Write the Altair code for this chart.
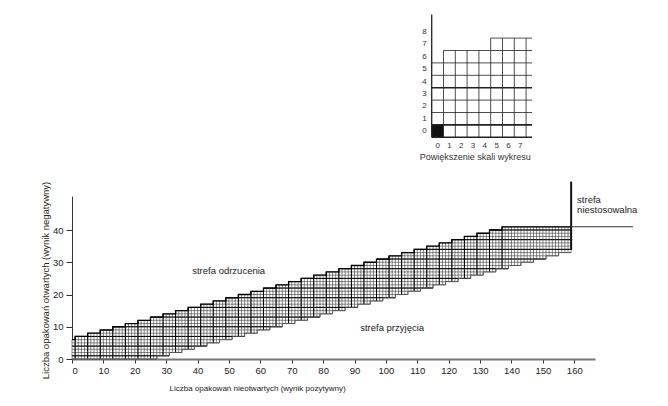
import altair as alt
import pandas as pd

# ---------------- data ----------------
# upper (rejection) staircase: column start -> upper cell bound
upper_start = [0, 1, 5, 9, 13, 17, 21, 25, 29, 33, 37, 41, 45, 49, 53, 57, 61, 65,
               69, 73, 77, 81, 85, 89, 93, 97, 101, 105, 109, 113, 117, 121, 125,
               129, 133, 137]
upper_val = [6, 7, 8, 9, 10, 11, 12, 13, 14, 15, 16, 17, 18, 19, 20, 21, 22, 23,
             24, 25, 26, 27, 28, 29, 30, 31, 32, 33, 34, 35, 36, 37, 38, 39, 40, 41]
# lower (acceptance) staircase
lower_start = [0, 27, 31, 35, 39, 43, 47, 51, 55, 59, 63, 67, 71, 75, 79, 83, 87,
               91, 95, 99, 103, 107, 111, 115, 119, 123, 127, 131, 135, 139, 143,
               147, 151, 155]
lower_val = [0, 1, 2, 3, 4, 5, 6, 7, 8, 9, 10, 11, 12, 13, 14, 15, 16, 17, 18, 19,
             20, 21, 22, 23, 24, 25, 26, 27, 28, 29, 30, 31, 32, 33]
band_end = 159
# "strefa niestosowalna" boundary
ns_x = 159
ns_y_low, ns_y_high = 33.8, 55
ns_h_y, ns_h_x_end = 41, 178.7

x_ticks = [0, 10, 20, 30, 40, 50, 60, 70, 80, 90, 100, 110, 120, 130, 140, 150, 160]
y_ticks = [0, 10, 20, 30, 40]

anno_text = ["strefa odrzucenia", "strefa przyjęcia", "strefa", "niestosowalna"]
anno_x = [38.3, 91.8, 160.9, 160.9]
anno_y = [27.3, 9.6, 49.3, 46.2]

# inset: "Powiększenie skali wykresu"
inset_cols = [0, 1, 2, 3, 4, 5, 6, 7, 8]
inset_tops = [6, 7, 7, 7, 7, 8, 8, 8, 8]
inset_right = 8.5
inset_axis_top = 9.9
inset_bold_rows = [1, 4]
inset_xlabels = ["0", "1", "2", "3", "4", "5", "6", "7"]
inset_ylabels = ["0", "1", "2", "3", "4", "5", "6", "7", "8"]
inset_title = "Powiększenie skali wykresu"

x_title = "Liczba opakowań nieotwartych (wynik pozytywny)"
y_title = "Liczba opakowań otwartych (wynik negatywny)"

FONT = "Liberation Sans"
W, H = 523, 349

# ---------------- derived tables ----------------
def step_value(starts, vals, c):
    v = vals[0]
    for s, val in zip(starts, vals):
        if s <= c:
            v = val
    return v

up = [step_value(upper_start, upper_val, c) for c in range(band_end)]
lo = [step_value(lower_start, lower_val, c) for c in range(band_end)]

cols = pd.DataFrame({"x": list(range(band_end)), "x2": [c + 1 for c in range(band_end)],
                     "y": lo, "y2": up})

vrows = []
for b in range(band_end + 1):
    adj = [c for c in (b - 1, b) if 0 <= c < band_end]
    vrows.append({"x": b, "y": min(lo[c] for c in adj), "y2": max(up[c] for c in adj)})
fine_v = pd.DataFrame(vrows)

hrows = []
for k in range(0, max(up) + 1):
    cs = [c for c in range(band_end) if lo[c] <= k <= up[c]]
    if cs:
        hrows.append({"y": k, "x": min(cs), "x2": max(cs) + 1})
fine_h = pd.DataFrame(hrows)

dark_v = fine_v[fine_v["x"].isin(upper_start[1:])]
dark_h = fine_h[fine_h["y"].isin(list(range(1, 42, 3)))]

upper_line = pd.DataFrame({"x": upper_start + [band_end], "y": upper_val + [upper_val[-1]]})
lower_line = pd.DataFrame({"x": lower_start + [band_end], "y": lower_val + [lower_val[-1]]})

ns_v = pd.DataFrame({"x": [ns_x], "y": [ns_y_low], "y2": [ns_y_high]})
ns_h = pd.DataFrame({"x": [ns_x], "x2": [ns_h_x_end], "y": [ns_h_y]})
anno = pd.DataFrame({"t": anno_text, "x": anno_x, "y": anno_y})

# ---------------- main chart ----------------
XS = alt.Scale(domain=[0, 166.6], nice=False, zero=False)
YS = alt.Scale(domain=[0, 50.5], range=[H, H - 50.5 * 3.225], nice=False, zero=False)

x_axis = alt.Axis(values=x_ticks, title=x_title, grid=False, domainColor="#777",
                  domainWidth=2, tickColor="#333", tickSize=4, labelPadding=2,
                  labelFont=FONT, labelFontSize=9.5, labelColor="#222",
                  titleFont=FONT, titleFontSize=8, titleFontWeight="normal",
                  titleColor="#222", titleX=185, titleY=29, titleBaseline="middle",
                  titleAlign="center", orient="bottom")
y_axis = alt.Axis(values=y_ticks, title=y_title, grid=False, domainColor="#333",
                  domainWidth=1, tickColor="#333", tickSize=6, labelPadding=3,
                  labelFont=FONT, labelFontSize=9.5, labelColor="#222",
                  titleFont=FONT, titleFontSize=9.5, titleFontWeight="normal",
                  titleColor="#222", titleX=-27, titleY=270, titleBaseline="middle",
                  titleAlign="center", titleAngle=270, orient="left")


def X(f, ax=None):
    return alt.X(f, type="quantitative", scale=XS, axis=ax)


def Y(f, ax=None):
    return alt.Y(f, type="quantitative", scale=YS, axis=ax)


band = alt.Chart(cols).mark_rect(fill="white", stroke=None).encode(
    x=X("x", x_axis), x2="x2", y=Y("y", y_axis), y2="y2")
fv = alt.Chart(fine_v).mark_rule(color="#3a3a3a", strokeWidth=0.6).encode(
    x=X("x"), y=Y("y"), y2="y2")
fh = alt.Chart(fine_h).mark_rule(color="#3a3a3a", strokeWidth=0.6).encode(
    x=X("x"), x2="x2", y=Y("y"))
dv = alt.Chart(dark_v).mark_rule(color="#000", strokeWidth=1).encode(
    x=X("x"), y=Y("y"), y2="y2")
dh = alt.Chart(dark_h).mark_rule(color="#000", strokeWidth=1).encode(
    x=X("x"), x2="x2", y=Y("y"))
ul = alt.Chart(upper_line).mark_line(color="#000", strokeWidth=1.3,
                                     interpolate="step-after").encode(x=X("x"), y=Y("y"))
ll = alt.Chart(lower_line).mark_line(color="#555", strokeWidth=0.9,
                                     interpolate="step-after").encode(x=X("x"), y=Y("y"))
nsv = alt.Chart(ns_v).mark_rule(color="#111", strokeWidth=2).encode(
    x=X("x"), y=Y("y"), y2="y2")
nsh = alt.Chart(ns_h).mark_rule(color="#333", strokeWidth=1).encode(
    x=X("x"), x2="x2", y=Y("y"))
txt = alt.Chart(anno).mark_text(align="left", baseline="middle", font=FONT,
                                fontSize=9.5, color="#222").encode(
    x=X("x"), y=Y("y"), text="t:N")

# ---------------- inset ----------------
IXS = alt.Scale(domain=[0, inset_right], range=[431.7 - 72, 431.7 - 72 + inset_right * 11.8],
                nice=False, zero=False)
IYS = alt.Scale(domain=[0, inset_axis_top],
                range=[127.3, 127.3 - inset_axis_top * 12.4], nice=False, zero=False)


def IX(f):
    return alt.X(f, type="quantitative", scale=IXS, axis=None)


def IY(f):
    return alt.Y(f, type="quantitative", scale=IYS, axis=None)


ih = []
for k in range(0, max(inset_tops) + 1):
    cs = [c for c, t in zip(inset_cols, inset_tops) if t >= k]
    ih.append({"y": k, "x": min(cs), "x2": inset_right,
               "w": 1.6 if (k in inset_bold_rows or k == 0) else 0.8})
ih = pd.DataFrame(ih)
iv = []
for c in inset_cols[1:]:
    t = max(inset_tops[c - 1], inset_tops[c])
    iv.append({"x": c, "y": 0, "y2": t})
iv = pd.DataFrame(iv)
iaxis = pd.DataFrame({"x": [0], "y": [0], "y2": [inset_axis_top]})
iblack = pd.DataFrame({"x": [0], "x2": [1], "y": [0], "y2": [1]})
iyl = pd.DataFrame({"t": inset_ylabels, "x": [0] * len(inset_ylabels),
                    "y": [i + 0.5 for i in range(len(inset_ylabels))]})
ixl = pd.DataFrame({"t": inset_xlabels, "x": [i + 0.5 for i in range(len(inset_xlabels))],
                    "y": [0] * len(inset_xlabels)})
ititle = pd.DataFrame({"t": [inset_title], "x": [0], "y": [0]})

i_h = alt.Chart(ih).mark_rule(color="#222").encode(
    x=IX("x"), x2="x2", y=IY("y"),
    strokeWidth=alt.StrokeWidth("w:Q", scale=None, legend=None))
i_v = alt.Chart(iv).mark_rule(color="#222", strokeWidth=0.8).encode(
    x=IX("x"), y=IY("y"), y2="y2")
i_ax = alt.Chart(iaxis).mark_rule(color="#222", strokeWidth=1.3).encode(
    x=IX("x"), y=IY("y"), y2="y2")
i_bk = alt.Chart(iblack).mark_rect(color="#111").encode(
    x=IX("x"), x2="x2", y=IY("y"), y2="y2")
i_yl = alt.Chart(iyl).mark_text(align="right", baseline="middle", dx=-5, font=FONT,
                                fontSize=8, color="#333").encode(
    x=IX("x"), y=IY("y"), text="t:N")
i_xl = alt.Chart(ixl).mark_text(align="center", baseline="middle", dy=9, font=FONT,
                                fontSize=8, color="#333").encode(
    x=IX("x"), y=IY("y"), text="t:N")
i_tt = alt.Chart(ititle).mark_text(align="left", baseline="middle", dx=-12, dy=20,
                                   font=FONT, fontSize=9, color="#333").encode(
    x=IX("x"), y=IY("y"), text="t:N")

chart = alt.layer(
    band, fv, fh, dv, dh, ul, ll, nsv, nsh, txt,
    i_bk, i_h, i_v, i_ax, i_yl, i_xl, i_tt,
).resolve_scale(
    x="independent", y="independent"
).properties(
    width=W, height=H,
    autosize=alt.AutoSizeParams(type="none"),
    padding={"left": 64, "top": 2, "right": 65, "bottom": 40},
    background="white",
).configure_view(stroke=None)

chart.save("out.html", embed_options={"renderer": "svg", "actions": False})
